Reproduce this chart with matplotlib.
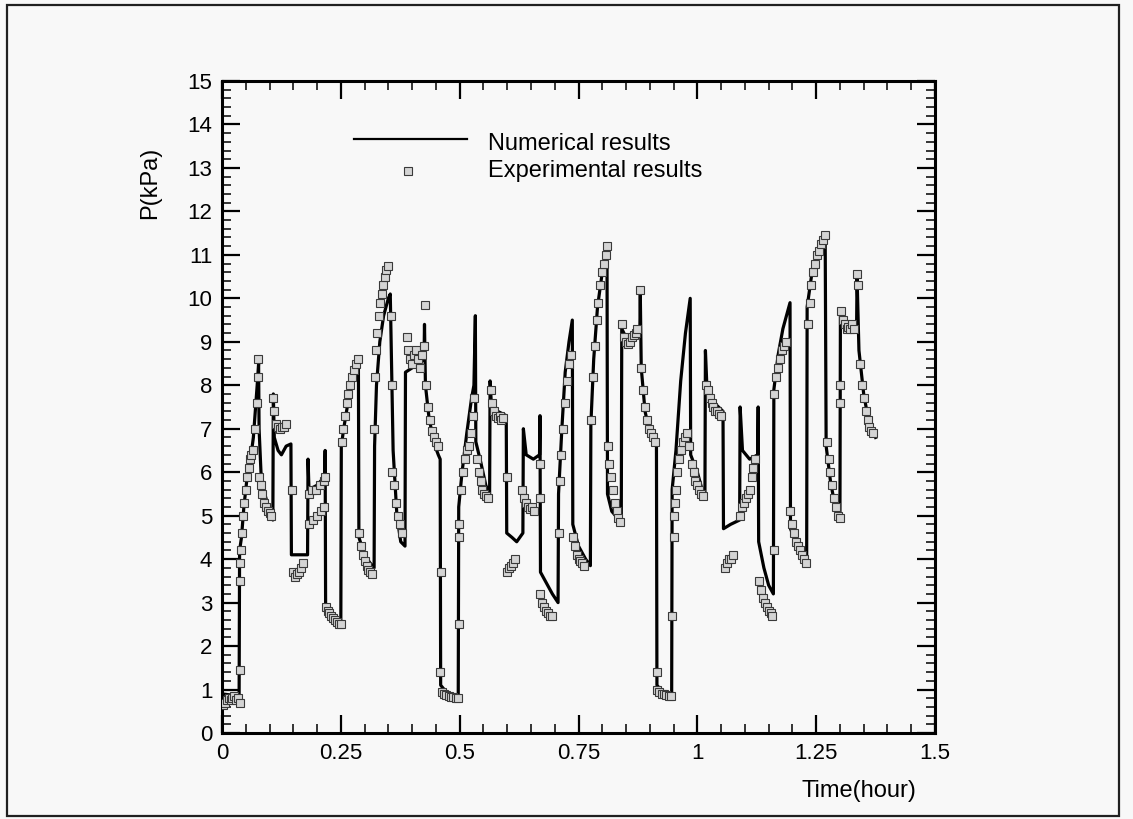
import matplotlib

matplotlib.use("Agg")
import matplotlib.pyplot as plt
from matplotlib.patches import Rectangle
from matplotlib.ticker import MultipleLocator, FixedLocator, FixedFormatter

# numerical (solid line), time in hours / pressure in kPa
num_time = [
    0.000, 0.036, 0.037, 0.041, 0.046, 0.052, 0.060, 0.066, 0.070, 0.074, 0.077,
    0.078, 0.082, 0.090, 0.100, 0.107, 0.108, 0.110, 0.118, 0.125, 0.135, 0.145,
    0.146, 0.160, 0.180, 0.181, 0.183, 0.200, 0.216, 0.217, 0.218, 0.235, 0.250,
    0.251, 0.256, 0.265, 0.275, 0.287, 0.288, 0.300, 0.312, 0.320, 0.321, 0.325,
    0.332, 0.340, 0.350, 0.354, 0.357, 0.360, 0.368, 0.376, 0.385, 0.386, 0.400,
    0.425, 0.426, 0.428, 0.435, 0.445, 0.455, 0.459, 0.460, 0.475, 0.497, 0.498,
    0.505, 0.515, 0.525, 0.530, 0.533, 0.534, 0.545, 0.555, 0.563, 0.564, 0.567,
    0.580, 0.598, 0.599, 0.610, 0.620, 0.633, 0.634, 0.640, 0.655, 0.668, 0.669,
    0.670, 0.680, 0.695, 0.707, 0.708, 0.715, 0.722, 0.730, 0.737, 0.738, 0.750,
    0.765, 0.775, 0.776, 0.782, 0.790, 0.800, 0.810, 0.811, 0.820, 0.832, 0.840,
    0.841, 0.850, 0.865, 0.879, 0.880, 0.882, 0.890, 0.900, 0.914, 0.915, 0.930,
    0.946, 0.947, 0.955, 0.965, 0.975, 0.985, 0.986, 1.000, 1.010, 1.016, 1.017,
    1.020, 1.035, 1.054, 1.055, 1.070, 1.089, 1.090, 1.095, 1.110, 1.127, 1.128,
    1.129, 1.140, 1.150, 1.160, 1.161, 1.170, 1.180, 1.195, 1.196, 1.210, 1.220,
    1.230, 1.231, 1.240, 1.255, 1.269, 1.271, 1.280, 1.290, 1.300, 1.301, 1.310,
    1.335, 1.336, 1.340, 1.350, 1.360, 1.375,
]
num_pressure = [
    0.90, 0.85, 4.2, 4.5, 5.2, 5.8, 6.3, 6.8, 7.4, 8.0, 8.5,
    7.0, 6.0, 5.5, 5.1, 4.9, 7.8, 6.8, 6.5, 6.4, 6.6, 6.65,
    4.1, 4.1, 4.1, 6.3, 5.6, 5.7, 5.9, 6.5, 2.8, 2.7, 2.6,
    6.6, 7.0, 7.6, 8.1, 8.4, 4.5, 4.1, 3.9, 3.8, 6.6, 8.0,
    9.0, 9.6, 10.0, 10.1, 8.3, 6.5, 5.0, 4.4, 4.3, 8.3, 8.4,
    8.6, 9.4, 8.0, 7.3, 6.7, 6.4, 6.3, 1.1, 0.9, 0.85, 5.2,
    6.0, 6.9, 7.7, 8.0, 9.6, 6.7, 6.2, 5.7, 5.5, 8.1, 7.5,
    7.4, 7.3, 4.6, 4.5, 4.4, 4.6, 7.0, 6.4, 6.3, 6.4, 7.3,
    3.7, 3.5, 3.2, 3.0, 5.5, 7.0, 8.3, 9.0, 9.5, 4.8, 4.3,
    4.0, 3.85, 7.1, 8.6, 9.8, 10.6, 11.0, 5.5, 5.1, 4.95, 4.9,
    9.3, 9.1, 9.0, 9.2, 10.1, 8.4, 7.4, 6.9, 6.6, 1.1, 0.9,
    0.85, 5.6, 6.5, 8.1, 9.2, 10.0, 6.4, 6.0, 5.6, 5.5, 8.8,
    8.0, 7.6, 7.4, 4.7, 4.8, 4.9, 7.5, 6.5, 6.3, 6.4, 7.5,
    4.4, 3.8, 3.4, 3.2, 7.9, 8.7, 9.3, 9.9, 4.7, 4.3, 4.1,
    3.9, 9.8, 10.5, 11.0, 11.3, 6.6, 5.8, 5.2, 4.9, 9.6, 9.3,
    9.3, 10.5, 8.8, 7.8, 7.2, 6.8,
]

# experimental (squares)
exp_time = [
    0.002, 0.006, 0.010, 0.014, 0.018, 0.022, 0.026, 0.030, 0.034, 0.038,
    0.038, 0.037, 0.038, 0.040,
    0.042, 0.044, 0.047, 0.050, 0.053, 0.056, 0.059, 0.062, 0.065, 0.070, 0.074, 0.075, 0.076,
    0.078, 0.081, 0.084, 0.088, 0.092, 0.096, 0.100, 0.104,
    0.108, 0.110, 0.114, 0.118, 0.122, 0.126, 0.130, 0.134,
    0.147, 0.150, 0.154, 0.158, 0.162, 0.166, 0.170,
    0.184, 0.192, 0.200, 0.208, 0.214, 0.184, 0.190, 0.198, 0.206, 0.214, 0.217,
    0.219, 0.222, 0.226, 0.230, 0.234, 0.238, 0.242, 0.246, 0.250,
    0.252, 0.255, 0.258, 0.262, 0.266, 0.270, 0.274, 0.278, 0.282, 0.286,
    0.288, 0.292, 0.296, 0.300, 0.304, 0.308, 0.312, 0.316,
    0.320, 0.322, 0.324, 0.327, 0.330, 0.333, 0.336, 0.339, 0.342, 0.346, 0.350,
    0.356, 0.357, 0.358, 0.362, 0.366, 0.370, 0.374, 0.378,
    0.390, 0.392, 0.396, 0.400, 0.404, 0.408, 0.412, 0.416, 0.420, 0.424, 0.427,
    0.430, 0.434, 0.438, 0.442, 0.446, 0.450, 0.455, 0.460, 0.459,
    0.462, 0.467, 0.472, 0.477, 0.482, 0.487, 0.492, 0.496, 0.498, 0.499, 0.499,
    0.503, 0.507, 0.511, 0.515, 0.519, 0.523, 0.527, 0.531,
    0.536, 0.540, 0.544, 0.548, 0.552, 0.556, 0.560,
    0.566, 0.568, 0.572, 0.576, 0.580, 0.584, 0.588, 0.592, 0.599,
    0.600, 0.604, 0.608, 0.612, 0.616,
    0.632, 0.636, 0.640, 0.644, 0.648, 0.652, 0.656, 0.669, 0.669,
    0.670, 0.674, 0.678, 0.682, 0.686, 0.690, 0.694,
    0.708, 0.711, 0.714, 0.718, 0.722, 0.726, 0.730, 0.734,
    0.738, 0.742, 0.746, 0.750, 0.754, 0.758, 0.762,
    0.776, 0.780, 0.784, 0.788, 0.792, 0.796, 0.800, 0.804, 0.808, 0.811,
    0.812, 0.815, 0.818, 0.822, 0.826, 0.830, 0.834, 0.838,
    0.842, 0.846, 0.850, 0.854, 0.858, 0.862, 0.866, 0.870, 0.874, 0.880,
    0.882, 0.886, 0.890, 0.894, 0.898, 0.902, 0.906, 0.910, 0.915,
    0.916, 0.920, 0.925, 0.930, 0.935, 0.940, 0.944, 0.947, 0.950, 0.951, 0.952,
    0.955, 0.958, 0.962, 0.966, 0.970, 0.974, 0.978, 0.982,
    0.988, 0.992, 0.996, 1.000, 1.004, 1.008, 1.012,
    1.018, 1.022, 1.026, 1.030, 1.034, 1.038, 1.042, 1.046, 1.050,
    1.058, 1.062, 1.066, 1.070, 1.074,
    1.090, 1.094, 1.098, 1.102, 1.106, 1.110, 1.114, 1.118, 1.122,
    1.130, 1.134, 1.138, 1.142, 1.146, 1.150, 1.154, 1.158, 1.161,
    1.162, 1.166, 1.170, 1.174, 1.178, 1.182, 1.186,
    1.196, 1.200, 1.204, 1.208, 1.212, 1.216, 1.220, 1.224, 1.228,
    1.232, 1.236, 1.240, 1.244, 1.248, 1.252, 1.256, 1.260, 1.264, 1.268,
    1.272, 1.276, 1.280, 1.284, 1.288, 1.292, 1.296, 1.300, 1.301, 1.301,
    1.302, 1.306, 1.310, 1.314, 1.318, 1.322, 1.326, 1.330, 1.336, 1.338,
    1.342, 1.346, 1.350, 1.354, 1.358, 1.362, 1.366, 1.370,
]
exp_pressure = [
    0.65, 0.70, 0.75, 0.80, 0.75, 0.80, 0.85, 0.75, 0.80, 0.70,
    1.45, 3.5, 3.9, 4.2,
    4.6, 5.0, 5.3, 5.6, 5.9, 6.1, 6.3, 6.4, 6.5, 7.0, 7.6, 8.2, 8.6,
    5.9, 5.7, 5.5, 5.3, 5.2, 5.1, 5.05, 5.0,
    7.7, 7.4, 7.1, 7.05, 7.0, 7.05, 7.05, 7.1,
    5.6, 3.7, 3.6, 3.65, 3.7, 3.8, 3.9,
    4.8, 4.9, 5.0, 5.1, 5.2, 5.5, 5.6, 5.6, 5.7, 5.8, 5.9,
    2.9, 2.8, 2.75, 2.7, 2.65, 2.6, 2.55, 2.5, 2.5,
    6.7, 7.0, 7.3, 7.6, 7.8, 8.0, 8.2, 8.35, 8.5, 8.6,
    4.6, 4.3, 4.1, 3.95, 3.85, 3.75, 3.7, 3.65,
    7.0, 8.2, 8.8, 9.2, 9.6, 9.9, 10.1, 10.3, 10.5, 10.65, 10.75,
    9.6, 8.0, 6.0, 5.7, 5.3, 5.0, 4.8, 4.6,
    9.1, 8.8, 8.6, 8.5, 8.7, 8.8, 8.6, 8.4, 8.7, 8.9, 9.85,
    8.0, 7.5, 7.2, 6.95, 6.8, 6.7, 6.6, 3.7, 1.4,
    0.95, 0.90, 0.88, 0.85, 0.83, 0.82, 0.80, 0.80, 2.5, 4.5, 4.8,
    5.6, 6.0, 6.3, 6.5, 6.6, 6.9, 7.3, 7.7,
    6.3, 6.0, 5.8, 5.6, 5.5, 5.45, 5.4,
    7.9, 7.6, 7.4, 7.3, 7.25, 7.3, 7.2, 7.25, 5.9,
    3.7, 3.8, 3.85, 3.9, 4.0,
    5.6, 5.4, 5.3, 5.2, 5.15, 5.2, 5.1, 6.2, 5.4,
    3.2, 3.0, 2.9, 2.8, 2.75, 2.7, 2.7,
    4.6, 5.8, 6.4, 7.0, 7.6, 8.1, 8.5, 8.7,
    4.5, 4.3, 4.1, 4.0, 3.95, 3.9, 3.85,
    7.2, 8.2, 8.9, 9.5, 9.9, 10.3, 10.6, 10.8, 11.0, 11.2,
    6.6, 6.2, 5.9, 5.6, 5.3, 5.1, 4.95, 4.85,
    9.4, 9.1, 9.0, 8.95, 9.0, 9.1, 9.15, 9.2, 9.3, 10.2,
    8.4, 7.9, 7.5, 7.2, 7.0, 6.9, 6.8, 6.7, 1.4,
    1.0, 0.95, 0.90, 0.90, 0.88, 0.85, 0.85, 2.7, 4.5, 5.0, 5.3,
    5.6, 6.0, 6.3, 6.5, 6.7, 6.8, 6.9, 6.6,
    6.2, 6.0, 5.8, 5.7, 5.6, 5.5, 5.45,
    8.0, 7.9, 7.7, 7.6, 7.5, 7.4, 7.4, 7.35, 7.3,
    3.8, 3.9, 4.0, 4.0, 4.1,
    5.0, 5.2, 5.3, 5.4, 5.5, 5.6, 5.9, 6.1, 6.3,
    3.5, 3.3, 3.1, 3.0, 2.9, 2.8, 2.75, 2.7, 4.2,
    7.8, 8.2, 8.4, 8.6, 8.8, 8.9, 9.0,
    5.1, 4.8, 4.6, 4.4, 4.3, 4.2, 4.1, 4.0, 3.9,
    9.4, 9.9, 10.3, 10.6, 10.8, 11.0, 11.1, 11.25, 11.35, 11.45,
    6.7, 6.3, 6.0, 5.7, 5.4, 5.2, 5.0, 4.95, 8.0, 7.6,
    9.7, 9.5, 9.4, 9.3, 9.35, 9.3, 9.4, 9.3, 10.55, 10.3,
    8.5, 8.0, 7.7, 7.4, 7.2, 7.05, 6.95, 6.9,
]

x_ticks = [0, 0.25, 0.5, 0.75, 1, 1.25, 1.5]
x_tick_labels = ["0", "0.25", "0.5", "0.75", "1", "1.25", "1.5"]
legend_labels = ["Numerical results", "Experimental results"]

plt.rcParams["font.family"] = ["Liberation Sans Narrow", "Liberation Sans", "DejaVu Sans"]

BG = "#f8f8f8"
W, H = 1133, 819
MARK = dict(linestyle="none", marker="s", markersize=5.5, markerfacecolor="#d4d4d4",
            markeredgecolor="#3a3a3a", markeredgewidth=0.8)

fig = plt.figure(figsize=(W / 100, H / 100), dpi=100, facecolor=BG)

# outer frame
fig.patches.append(Rectangle((7 / W, 3 / H), 1112 / W, 811 / H, transform=fig.transFigure,
                             fill=False, edgecolor="#202020", linewidth=1.6))

ax = fig.add_axes([222 / W, 86 / H, 713 / W, 652 / H], facecolor=BG)

ax.plot(num_time, num_pressure, color="black", linewidth=2.3, zorder=3)
ax.plot(exp_time, exp_pressure, zorder=4, **MARK)

ax.set_xlim(0, 1.5)
ax.set_ylim(0, 15)
ax.xaxis.set_major_locator(FixedLocator(x_ticks))
ax.xaxis.set_major_formatter(FixedFormatter(x_tick_labels))
ax.xaxis.set_minor_locator(MultipleLocator(0.05))
ax.yaxis.set_major_locator(MultipleLocator(1))
ax.yaxis.set_minor_locator(MultipleLocator(0.2))
ax.tick_params(which="both", direction="in", top=True, right=True, colors="black",
               labelsize=16)
ax.tick_params(which="major", length=13, width=1.6, pad=7)
ax.tick_params(which="minor", length=6.5, width=1.1)
for sp in ax.spines.values():
    sp.set_linewidth(2.2)

ax.text(-0.101, 0.844, "P(kPa)", transform=ax.transAxes, rotation=90,
        ha="center", va="center", fontsize=17)
ax.text(0.893, -0.089, "Time(hour)", transform=ax.transAxes,
        ha="center", va="center", fontsize=17)

# legend drawn by hand to sit where the original puts it
ax.plot([0.185, 0.344], [0.911, 0.911], transform=ax.transAxes, color="black",
        linewidth=1.6, clip_on=False)
ax.plot([0.261], [0.862], transform=ax.transAxes, **MARK)
ax.text(0.373, 0.904, legend_labels[0], transform=ax.transAxes, ha="left",
        va="center", fontsize=17)
ax.text(0.373, 0.862, legend_labels[1], transform=ax.transAxes, ha="left",
        va="center", fontsize=17)

fig.savefig("out.png", dpi=100, facecolor=BG)
